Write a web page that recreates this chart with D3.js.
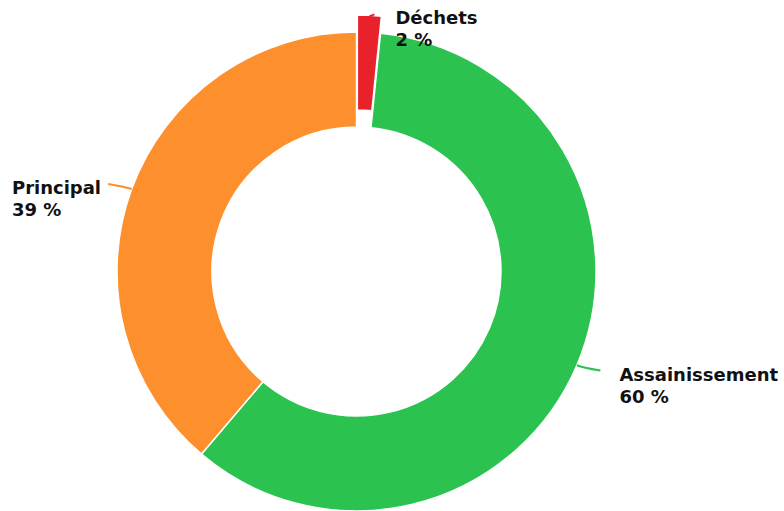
<!DOCTYPE html>
<html>
<head>
<meta charset="utf-8">
<script src="https://cdn.jsdelivr.net/npm/d3@7"></script>
<style>
  body { margin: 0; background: #fff; }
  svg { display: block; }
  text { font-family: "DejaVu Sans", sans-serif; font-weight: bold; font-size: 18px; fill: #111; }
</style>
</head>
<body>
<div class="donut"></div>
<script>
//Chart data
var categories = ["Déchets", "Assainissement", "Principal"];
var values = [1.6, 59.6, 38.8];
var percentLabels = ["2 %", "60 %", "39 %"];
var colors = ["#e8212b", "#2bc250", "#fd8f2d"];
var exploded = [true, false, false];

var width = 784, height = 511;
var cx = 356.5, cy = 271.5;
var outerR = 239.5, innerR = 144.5;
var explodeBy = 17;

//Create svg element
var svg = d3.select(".donut")
    .append("svg")
    .attr("width", width)
    .attr("height", height);

var g = svg.append("g")
    .attr("transform", `translate(${cx},${cy})`);

var pie = d3.pie().sort(null).value(d => d.value);
var arc = d3.arc().innerRadius(innerR).outerRadius(outerR);

var data = categories.map((c, i) => ({
    name: c, value: values[i], label: percentLabels[i], color: colors[i], explode: exploded[i]
}));
var arcs = pie(data);

function mid(d) { return (d.startAngle + d.endAngle) / 2; }
function offset(d) { return d.data.explode ? explodeBy : 0; }

//Slices
g.selectAll("path.slice")
    .data(arcs)
    .enter()
    .append("path")
    .attr("class", "slice")
    .attr("d", arc)
    .attr("transform", d => {
        var a = mid(d), o = offset(d);
        return `translate(${o * Math.sin(a)},${-o * Math.cos(a)})`;
    })
    .style("fill", d => d.data.color)
    .style("stroke", "#ffffff")
    .style("stroke-width", 1.5)
    .style("stroke-linejoin", "round");

//Connectors and labels
arcs.forEach(d => {
    var a = mid(d), o = offset(d);
    var right = Math.sin(a) >= 0;
    var r0 = outerR + o;
    var p0 = [r0 * Math.sin(a), -r0 * Math.cos(a)];
    var p1 = [(r0 + 6) * Math.sin(a), -(r0 + 6) * Math.cos(a)];
    var p2 = [p1[0] + (right ? 18 : -18), p1[1] + (right ? 3 : -3)];
    var path = `M${p0[0]},${p0[1]} Q${p1[0]},${p1[1]} ${p2[0]},${p2[1]}`;
    if (d.data.explode) {
        //tiny connector, mostly hidden behind the slice corner
        p2 = [p0[0] + 5, p0[1] - 1];
        path = `M${p0[0]},${p0[1] + 1} L${p2[0]},${p2[1]}`;
    }

    g.append("path")
        .attr("d", path)
        .style("fill", "none")
        .style("stroke", d.data.color)
        .style("stroke-width", 2);

    var t = g.append("text")
        .attr("y", p2[1] + 10);
    var l1 = t.append("tspan").attr("dy", 0).text(d.data.name);
    var l2 = t.append("tspan").attr("dy", 22).text(d.data.label);

    var tx;
    if (right) {
        tx = p2[0] + (d.data.explode ? 21 : 19);
    } else {
        var w = Math.max(l1.node().getComputedTextLength(), l2.node().getComputedTextLength());
        tx = p2[0] - 7 - w;
    }
    l1.attr("x", tx);
    l2.attr("x", tx);
});
</script>
</body>
</html>
